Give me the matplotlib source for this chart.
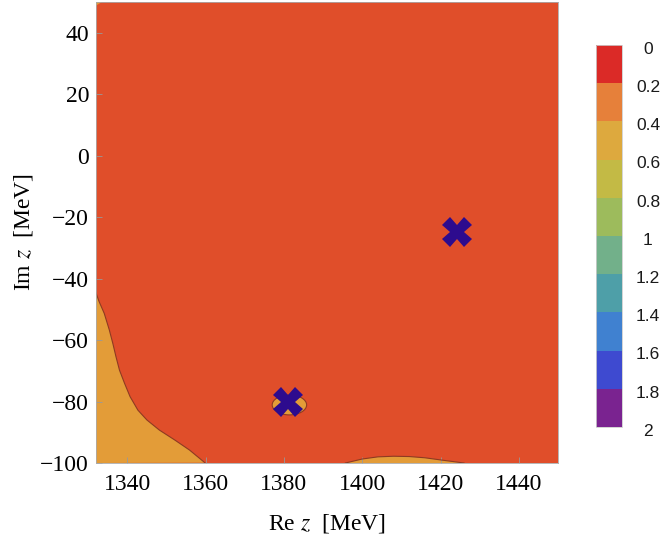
import matplotlib.pyplot as plt
import matplotlib.colors as mcolors
from matplotlib.cm import ScalarMappable
from matplotlib.patches import Ellipse

plt.rcParams['mathtext.fontset'] = 'stix'

# region boundaries (Re z, Im z in MeV)
left_re = [1331.9, 1332.8, 1334.1, 1335.4, 1336.3, 1337.1, 1338.0, 1339.3,
           1340.7, 1342.7, 1345.0, 1348.2, 1352.1, 1355.9, 1359.8]
left_im = [-44.3, -47.5, -51.3, -56.7, -61.1, -65.4, -69.8, -74.1,
           -78.4, -82.8, -86.0, -89.3, -92.5, -95.8, -99.9]

bump_re = [1395.7, 1400.0, 1404.0, 1408.0, 1412.0, 1416.0, 1420.0, 1426.0]
bump_im = [-100.0, -98.7, -98.0, -97.8, -97.9, -98.3, -99.0, -100.0]

corner_re = [1332.0, 1333.5, 1332.0]
corner_im = [50.0, 50.0, 48.8]

# small islands around the poles: centre re, centre im, width, height
island_re = [1381.4, 1424.2]
island_im = [-81.1, -25.3]
island_w = [8.8, 3.0]
island_h = [6.5, 2.2]

# poles
pole_re = [1381.1, 1424.1]
pole_im = [-80.1, -24.7]

levels = [0, 0.2, 0.4, 0.6, 0.8, 1.0, 1.2, 1.4, 1.6, 1.8, 2.0]
level_labels = ['0', '0.2', '0.4', '0.6', '0.8', '1', '1.2', '1.4', '1.6', '1.8', '2']
band_colors = ['#DB2A27', '#E6803A', '#DDA93E', '#C3BA45', '#9DBB5C',
               '#72B08A', '#4E9FA8', '#4081D0', '#3E4AD0', '#7A2390']

main_color = '#E04E2A'
low_color = '#E39C38'
edge_color = '#8E3A22'

fig = plt.figure(figsize=(6.64, 5.42), dpi=100)
ax = fig.add_axes([96 / 664, 1 - 463 / 542, 462 / 664, 461 / 542])
ax.set_facecolor(main_color)
ax.set_xlim(1332, 1450)
ax.set_ylim(-100, 50)

ax.fill(left_re + [1332.0], left_im + [-100.0], color=low_color, lw=0)
ax.plot(left_re, left_im, color=edge_color, lw=0.8)
ax.fill(bump_re, bump_im, color=low_color, lw=0)
ax.plot(bump_re, bump_im, color=edge_color, lw=0.8)
ax.fill(corner_re, corner_im, color=low_color, lw=0)

for cx, cy, w, h in zip(island_re, island_im, island_w, island_h):
    ax.add_patch(Ellipse((cx, cy), w, h, facecolor=low_color,
                         edgecolor=edge_color, lw=0.8))

ax.plot(pole_re, pole_im, 'X', color='#2D0B8E', markersize=21,
        markeredgewidth=0, linestyle='none')

ax.set_xticks([1340, 1360, 1380, 1400, 1420, 1440])
ax.set_yticks([-100, -80, -60, -40, -20, 0, 20, 40])
ax.set_yticklabels(['\u2212100', '\u221280', '\u221260', '\u221240', '\u221220',
                    '0', '20', '40'])
ax.tick_params(direction='in', length=4, width=0.6, color='#999999',
               labelsize=17)
ax.tick_params(axis='x', pad=8)
ax.tick_params(axis='y', pad=5)
for lab in ax.get_xticklabels() + ax.get_yticklabels():
    lab.set_family('Liberation Serif')
for sp in ax.spines.values():
    sp.set_color('#aaaaaa')
    sp.set_linewidth(0.6)

ax.set_xlabel('Re $z$  [MeV]', family='Liberation Serif', fontsize=17, labelpad=12)
ax.set_ylabel('Im $z$  [MeV]', family='Liberation Serif', fontsize=17, labelpad=4)

# legend bar
cax = fig.add_axes([596 / 664, 1 - 427 / 542, 26 / 664, 382 / 542])
cmap = mcolors.ListedColormap(band_colors)
norm = mcolors.BoundaryNorm(levels, cmap.N)
cb = fig.colorbar(ScalarMappable(norm=norm, cmap=cmap), cax=cax)
cb.outline.set_edgecolor('#cccccc')
cb.outline.set_linewidth(0.6)
cax.invert_yaxis()
cax.minorticks_off()
cax.set_yticks([])
for v, s in zip(levels, level_labels):
    cax.text(2.0, 1 - v / 2.0 - 0.011, s, transform=cax.transAxes,
             ha='center', va='center', fontsize=12.5, family='Liberation Sans',
             color='#1a1a1a')

fig.savefig('out.png', dpi=100)
